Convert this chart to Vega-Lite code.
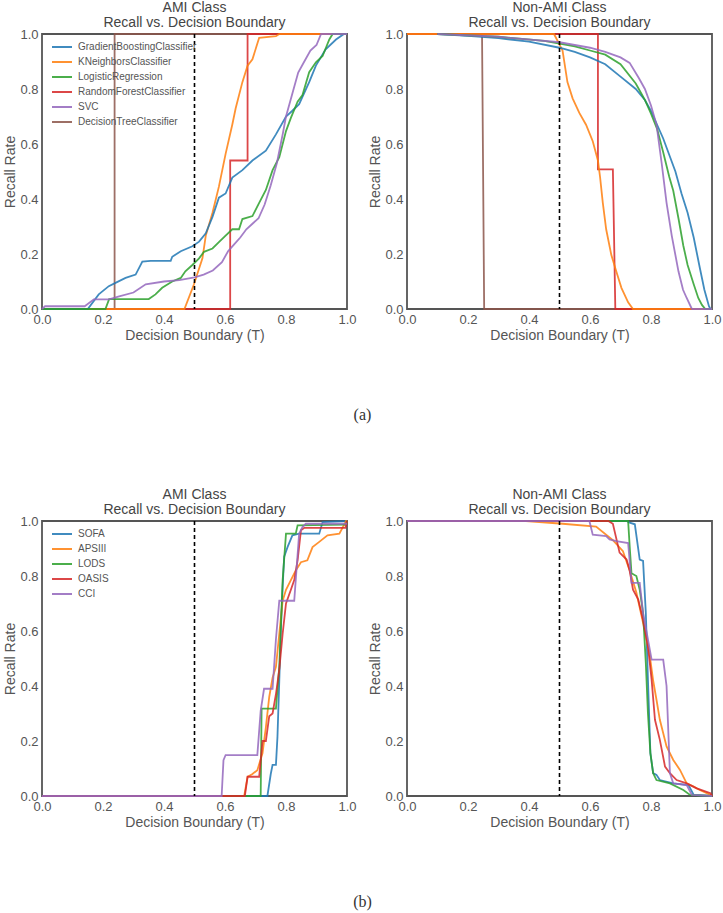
{
  "$schema": "https://vega.github.io/schema/vega-lite/v6.json",
  "background": "white",
  "padding": {"left": 3, "top": 0, "right": 2, "bottom": 2},
  "config": {
    "font": "Liberation Sans",
    "view": {"stroke": "#555555", "strokeWidth": 1.8},
    "axis": {"grid": false, "ticks": false, "domain": false, "labelFontSize": 13, "labelColor": "#555555", "titleFontSize": 14, "titleColor": "#555555", "titleFontWeight": "normal", "labelPadding": 4, "titlePadding": 2, "labelFlush": false, "labelOverlap": false},
    "title": {"fontSize": 14, "fontWeight": "normal", "color": "#444444", "lineHeight": 15, "offset": -2},
    "legend": {"labelFontSize": 10, "labelColor": "#555555"}
  },
  "datasets": {
    "a_ami": [
      {"m": "DecisionTreeClassifier", "t": 0, "r": 0}, {"m": "DecisionTreeClassifier", "t": 0.238, "r": 0}, {"m": "DecisionTreeClassifier", "t": 0.238, "r": 1}, {"m": "DecisionTreeClassifier", "t": 1, "r": 1},
      {"m": "RandomForestClassifier", "t": 0, "r": 0}, {"m": "RandomForestClassifier", "t": 0.617, "r": 0}, {"m": "RandomForestClassifier", "t": 0.617, "r": 0.54}, {"m": "RandomForestClassifier", "t": 0.674, "r": 0.54}, {"m": "RandomForestClassifier", "t": 0.674, "r": 1}, {"m": "RandomForestClassifier", "t": 1, "r": 1},
      {"m": "KNeighborsClassifier", "t": 0, "r": 0}, {"m": "KNeighborsClassifier", "t": 0.467, "r": 0}, {"m": "KNeighborsClassifier", "t": 0.498, "r": 0.089}, {"m": "KNeighborsClassifier", "t": 0.526, "r": 0.184}, {"m": "KNeighborsClassifier", "t": 0.537, "r": 0.267}, {"m": "KNeighborsClassifier", "t": 0.559, "r": 0.35}, {"m": "KNeighborsClassifier", "t": 0.58, "r": 0.445}, {"m": "KNeighborsClassifier", "t": 0.602, "r": 0.564}, {"m": "KNeighborsClassifier", "t": 0.624, "r": 0.671}, {"m": "KNeighborsClassifier", "t": 0.635, "r": 0.73}, {"m": "KNeighborsClassifier", "t": 0.657, "r": 0.825}, {"m": "KNeighborsClassifier", "t": 0.674, "r": 0.885}, {"m": "KNeighborsClassifier", "t": 0.69, "r": 0.908}, {"m": "KNeighborsClassifier", "t": 0.712, "r": 0.986}, {"m": "KNeighborsClassifier", "t": 0.767, "r": 0.992}, {"m": "KNeighborsClassifier", "t": 0.778, "r": 1}, {"m": "KNeighborsClassifier", "t": 1, "r": 1},
      {"m": "GradientBoostingClassifier", "t": 0, "r": 0}, {"m": "GradientBoostingClassifier", "t": 0.15, "r": 0}, {"m": "GradientBoostingClassifier", "t": 0.186, "r": 0.053}, {"m": "GradientBoostingClassifier", "t": 0.219, "r": 0.083}, {"m": "GradientBoostingClassifier", "t": 0.241, "r": 0.095}, {"m": "GradientBoostingClassifier", "t": 0.274, "r": 0.113}, {"m": "GradientBoostingClassifier", "t": 0.307, "r": 0.125}, {"m": "GradientBoostingClassifier", "t": 0.329, "r": 0.172}, {"m": "GradientBoostingClassifier", "t": 0.356, "r": 0.175}, {"m": "GradientBoostingClassifier", "t": 0.422, "r": 0.175}, {"m": "GradientBoostingClassifier", "t": 0.427, "r": 0.19}, {"m": "GradientBoostingClassifier", "t": 0.455, "r": 0.21}, {"m": "GradientBoostingClassifier", "t": 0.493, "r": 0.228}, {"m": "GradientBoostingClassifier", "t": 0.515, "r": 0.245}, {"m": "GradientBoostingClassifier", "t": 0.537, "r": 0.275}, {"m": "GradientBoostingClassifier", "t": 0.559, "r": 0.335}, {"m": "GradientBoostingClassifier", "t": 0.58, "r": 0.405}, {"m": "GradientBoostingClassifier", "t": 0.602, "r": 0.42}, {"m": "GradientBoostingClassifier", "t": 0.624, "r": 0.478}, {"m": "GradientBoostingClassifier", "t": 0.657, "r": 0.505}, {"m": "GradientBoostingClassifier", "t": 0.69, "r": 0.54}, {"m": "GradientBoostingClassifier", "t": 0.734, "r": 0.576}, {"m": "GradientBoostingClassifier", "t": 0.767, "r": 0.635}, {"m": "GradientBoostingClassifier", "t": 0.8, "r": 0.7}, {"m": "GradientBoostingClassifier", "t": 0.82, "r": 0.72}, {"m": "GradientBoostingClassifier", "t": 0.843, "r": 0.745}, {"m": "GradientBoostingClassifier", "t": 0.876, "r": 0.825}, {"m": "GradientBoostingClassifier", "t": 0.898, "r": 0.885}, {"m": "GradientBoostingClassifier", "t": 0.93, "r": 0.944}, {"m": "GradientBoostingClassifier", "t": 0.964, "r": 0.98}, {"m": "GradientBoostingClassifier", "t": 0.99, "r": 1}, {"m": "GradientBoostingClassifier", "t": 1, "r": 1},
      {"m": "LogisticRegression", "t": 0, "r": 0}, {"m": "LogisticRegression", "t": 0.208, "r": 0}, {"m": "LogisticRegression", "t": 0.22, "r": 0.036}, {"m": "LogisticRegression", "t": 0.35, "r": 0.036}, {"m": "LogisticRegression", "t": 0.372, "r": 0.053}, {"m": "LogisticRegression", "t": 0.394, "r": 0.077}, {"m": "LogisticRegression", "t": 0.427, "r": 0.1}, {"m": "LogisticRegression", "t": 0.455, "r": 0.113}, {"m": "LogisticRegression", "t": 0.47, "r": 0.137}, {"m": "LogisticRegression", "t": 0.493, "r": 0.16}, {"m": "LogisticRegression", "t": 0.515, "r": 0.184}, {"m": "LogisticRegression", "t": 0.531, "r": 0.208}, {"m": "LogisticRegression", "t": 0.559, "r": 0.22}, {"m": "LogisticRegression", "t": 0.58, "r": 0.243}, {"m": "LogisticRegression", "t": 0.602, "r": 0.267}, {"m": "LogisticRegression", "t": 0.624, "r": 0.29}, {"m": "LogisticRegression", "t": 0.646, "r": 0.29}, {"m": "LogisticRegression", "t": 0.657, "r": 0.327}, {"m": "LogisticRegression", "t": 0.69, "r": 0.338}, {"m": "LogisticRegression", "t": 0.712, "r": 0.386}, {"m": "LogisticRegression", "t": 0.734, "r": 0.433}, {"m": "LogisticRegression", "t": 0.756, "r": 0.505}, {"m": "LogisticRegression", "t": 0.778, "r": 0.552}, {"m": "LogisticRegression", "t": 0.8, "r": 0.647}, {"m": "LogisticRegression", "t": 0.816, "r": 0.695}, {"m": "LogisticRegression", "t": 0.838, "r": 0.754}, {"m": "LogisticRegression", "t": 0.854, "r": 0.778}, {"m": "LogisticRegression", "t": 0.876, "r": 0.861}, {"m": "LogisticRegression", "t": 0.898, "r": 0.897}, {"m": "LogisticRegression", "t": 0.92, "r": 0.92}, {"m": "LogisticRegression", "t": 0.942, "r": 0.98}, {"m": "LogisticRegression", "t": 0.953, "r": 1}, {"m": "LogisticRegression", "t": 1, "r": 1},
      {"m": "SVC", "t": 0, "r": 0}, {"m": "SVC", "t": 0.01, "r": 0.01}, {"m": "SVC", "t": 0.14, "r": 0.01}, {"m": "SVC", "t": 0.17, "r": 0.035}, {"m": "SVC", "t": 0.22, "r": 0.035}, {"m": "SVC", "t": 0.25, "r": 0.045}, {"m": "SVC", "t": 0.3, "r": 0.06}, {"m": "SVC", "t": 0.34, "r": 0.09}, {"m": "SVC", "t": 0.4, "r": 0.1}, {"m": "SVC", "t": 0.45, "r": 0.105}, {"m": "SVC", "t": 0.5, "r": 0.115}, {"m": "SVC", "t": 0.53, "r": 0.125}, {"m": "SVC", "t": 0.56, "r": 0.14}, {"m": "SVC", "t": 0.59, "r": 0.17}, {"m": "SVC", "t": 0.61, "r": 0.21}, {"m": "SVC", "t": 0.63, "r": 0.235}, {"m": "SVC", "t": 0.65, "r": 0.26}, {"m": "SVC", "t": 0.67, "r": 0.29}, {"m": "SVC", "t": 0.69, "r": 0.31}, {"m": "SVC", "t": 0.71, "r": 0.33}, {"m": "SVC", "t": 0.73, "r": 0.38}, {"m": "SVC", "t": 0.75, "r": 0.45}, {"m": "SVC", "t": 0.77, "r": 0.53}, {"m": "SVC", "t": 0.79, "r": 0.64}, {"m": "SVC", "t": 0.8, "r": 0.7}, {"m": "SVC", "t": 0.82, "r": 0.78}, {"m": "SVC", "t": 0.84, "r": 0.86}, {"m": "SVC", "t": 0.86, "r": 0.9}, {"m": "SVC", "t": 0.88, "r": 0.94}, {"m": "SVC", "t": 0.9, "r": 0.96}, {"m": "SVC", "t": 0.915, "r": 1}, {"m": "SVC", "t": 1, "r": 1}
    ],
    "a_non": [
      {"m": "DecisionTreeClassifier", "t": 0, "r": 1}, {"m": "DecisionTreeClassifier", "t": 0.246, "r": 1}, {"m": "DecisionTreeClassifier", "t": 0.253, "r": 0}, {"m": "DecisionTreeClassifier", "t": 1, "r": 0},
      {"m": "RandomForestClassifier", "t": 0, "r": 1}, {"m": "RandomForestClassifier", "t": 0.626, "r": 1}, {"m": "RandomForestClassifier", "t": 0.626, "r": 0.508}, {"m": "RandomForestClassifier", "t": 0.675, "r": 0.508}, {"m": "RandomForestClassifier", "t": 0.683, "r": 0}, {"m": "RandomForestClassifier", "t": 1, "r": 0},
      {"m": "KNeighborsClassifier", "t": 0, "r": 1}, {"m": "KNeighborsClassifier", "t": 0.482, "r": 1}, {"m": "KNeighborsClassifier", "t": 0.51, "r": 0.94}, {"m": "KNeighborsClassifier", "t": 0.526, "r": 0.825}, {"m": "KNeighborsClassifier", "t": 0.543, "r": 0.766}, {"m": "KNeighborsClassifier", "t": 0.565, "r": 0.713}, {"m": "KNeighborsClassifier", "t": 0.587, "r": 0.67}, {"m": "KNeighborsClassifier", "t": 0.609, "r": 0.61}, {"m": "KNeighborsClassifier", "t": 0.626, "r": 0.54}, {"m": "KNeighborsClassifier", "t": 0.633, "r": 0.48}, {"m": "KNeighborsClassifier", "t": 0.642, "r": 0.386}, {"m": "KNeighborsClassifier", "t": 0.653, "r": 0.29}, {"m": "KNeighborsClassifier", "t": 0.67, "r": 0.196}, {"m": "KNeighborsClassifier", "t": 0.686, "r": 0.137}, {"m": "KNeighborsClassifier", "t": 0.703, "r": 0.077}, {"m": "KNeighborsClassifier", "t": 0.725, "r": 0.024}, {"m": "KNeighborsClassifier", "t": 0.741, "r": 0}, {"m": "KNeighborsClassifier", "t": 1, "r": 0},
      {"m": "GradientBoostingClassifier", "t": 0.1, "r": 1}, {"m": "GradientBoostingClassifier", "t": 0.2, "r": 0.993}, {"m": "GradientBoostingClassifier", "t": 0.3, "r": 0.985}, {"m": "GradientBoostingClassifier", "t": 0.4, "r": 0.972}, {"m": "GradientBoostingClassifier", "t": 0.5, "r": 0.95}, {"m": "GradientBoostingClassifier", "t": 0.55, "r": 0.935}, {"m": "GradientBoostingClassifier", "t": 0.6, "r": 0.915}, {"m": "GradientBoostingClassifier", "t": 0.65, "r": 0.89}, {"m": "GradientBoostingClassifier", "t": 0.7, "r": 0.845}, {"m": "GradientBoostingClassifier", "t": 0.75, "r": 0.8}, {"m": "GradientBoostingClassifier", "t": 0.78, "r": 0.76}, {"m": "GradientBoostingClassifier", "t": 0.8, "r": 0.72}, {"m": "GradientBoostingClassifier", "t": 0.82, "r": 0.67}, {"m": "GradientBoostingClassifier", "t": 0.84, "r": 0.62}, {"m": "GradientBoostingClassifier", "t": 0.86, "r": 0.56}, {"m": "GradientBoostingClassifier", "t": 0.88, "r": 0.5}, {"m": "GradientBoostingClassifier", "t": 0.9, "r": 0.42}, {"m": "GradientBoostingClassifier", "t": 0.92, "r": 0.35}, {"m": "GradientBoostingClassifier", "t": 0.94, "r": 0.26}, {"m": "GradientBoostingClassifier", "t": 0.96, "r": 0.15}, {"m": "GradientBoostingClassifier", "t": 0.975, "r": 0.07}, {"m": "GradientBoostingClassifier", "t": 0.99, "r": 0.01}, {"m": "GradientBoostingClassifier", "t": 0.995, "r": 0}, {"m": "GradientBoostingClassifier", "t": 1, "r": 0},
      {"m": "LogisticRegression", "t": 0.1, "r": 1}, {"m": "LogisticRegression", "t": 0.3, "r": 0.99}, {"m": "LogisticRegression", "t": 0.45, "r": 0.975}, {"m": "LogisticRegression", "t": 0.5, "r": 0.965}, {"m": "LogisticRegression", "t": 0.55, "r": 0.955}, {"m": "LogisticRegression", "t": 0.6, "r": 0.94}, {"m": "LogisticRegression", "t": 0.65, "r": 0.925}, {"m": "LogisticRegression", "t": 0.7, "r": 0.89}, {"m": "LogisticRegression", "t": 0.75, "r": 0.82}, {"m": "LogisticRegression", "t": 0.78, "r": 0.76}, {"m": "LogisticRegression", "t": 0.8, "r": 0.71}, {"m": "LogisticRegression", "t": 0.82, "r": 0.655}, {"m": "LogisticRegression", "t": 0.84, "r": 0.57}, {"m": "LogisticRegression", "t": 0.86, "r": 0.48}, {"m": "LogisticRegression", "t": 0.873, "r": 0.43}, {"m": "LogisticRegression", "t": 0.89, "r": 0.33}, {"m": "LogisticRegression", "t": 0.906, "r": 0.23}, {"m": "LogisticRegression", "t": 0.92, "r": 0.16}, {"m": "LogisticRegression", "t": 0.94, "r": 0.09}, {"m": "LogisticRegression", "t": 0.955, "r": 0.04}, {"m": "LogisticRegression", "t": 0.967, "r": 0.015}, {"m": "LogisticRegression", "t": 0.978, "r": 0}, {"m": "LogisticRegression", "t": 1, "r": 0},
      {"m": "SVC", "t": 0.1, "r": 1}, {"m": "SVC", "t": 0.3, "r": 0.99}, {"m": "SVC", "t": 0.5, "r": 0.97}, {"m": "SVC", "t": 0.6, "r": 0.95}, {"m": "SVC", "t": 0.65, "r": 0.935}, {"m": "SVC", "t": 0.7, "r": 0.915}, {"m": "SVC", "t": 0.73, "r": 0.895}, {"m": "SVC", "t": 0.76, "r": 0.84}, {"m": "SVC", "t": 0.78, "r": 0.8}, {"m": "SVC", "t": 0.8, "r": 0.74}, {"m": "SVC", "t": 0.818, "r": 0.67}, {"m": "SVC", "t": 0.835, "r": 0.53}, {"m": "SVC", "t": 0.851, "r": 0.386}, {"m": "SVC", "t": 0.868, "r": 0.267}, {"m": "SVC", "t": 0.89, "r": 0.137}, {"m": "SVC", "t": 0.905, "r": 0.07}, {"m": "SVC", "t": 0.917, "r": 0.04}, {"m": "SVC", "t": 0.934, "r": 0}, {"m": "SVC", "t": 1, "r": 0}
    ],
    "b_ami": [
      {"m": "SOFA", "t": 0, "r": 0}, {"m": "SOFA", "t": 0.739, "r": 0}, {"m": "SOFA", "t": 0.75, "r": 0.08}, {"m": "SOFA", "t": 0.756, "r": 0.113}, {"m": "SOFA", "t": 0.767, "r": 0.113}, {"m": "SOFA", "t": 0.772, "r": 0.215}, {"m": "SOFA", "t": 0.778, "r": 0.42}, {"m": "SOFA", "t": 0.783, "r": 0.6}, {"m": "SOFA", "t": 0.789, "r": 0.76}, {"m": "SOFA", "t": 0.794, "r": 0.87}, {"m": "SOFA", "t": 0.805, "r": 0.905}, {"m": "SOFA", "t": 0.821, "r": 0.948}, {"m": "SOFA", "t": 0.843, "r": 0.954}, {"m": "SOFA", "t": 0.909, "r": 0.954}, {"m": "SOFA", "t": 0.92, "r": 0.996}, {"m": "SOFA", "t": 1, "r": 1},
      {"m": "APSIII", "t": 0, "r": 0}, {"m": "APSIII", "t": 0.663, "r": 0}, {"m": "APSIII", "t": 0.674, "r": 0.07}, {"m": "APSIII", "t": 0.69, "r": 0.08}, {"m": "APSIII", "t": 0.706, "r": 0.094}, {"m": "APSIII", "t": 0.723, "r": 0.155}, {"m": "APSIII", "t": 0.734, "r": 0.25}, {"m": "APSIII", "t": 0.745, "r": 0.36}, {"m": "APSIII", "t": 0.756, "r": 0.43}, {"m": "APSIII", "t": 0.767, "r": 0.47}, {"m": "APSIII", "t": 0.778, "r": 0.59}, {"m": "APSIII", "t": 0.789, "r": 0.71}, {"m": "APSIII", "t": 0.8, "r": 0.75}, {"m": "APSIII", "t": 0.816, "r": 0.785}, {"m": "APSIII", "t": 0.832, "r": 0.82}, {"m": "APSIII", "t": 0.849, "r": 0.85}, {"m": "APSIII", "t": 0.87, "r": 0.857}, {"m": "APSIII", "t": 0.887, "r": 0.905}, {"m": "APSIII", "t": 0.909, "r": 0.924}, {"m": "APSIII", "t": 0.936, "r": 0.948}, {"m": "APSIII", "t": 0.975, "r": 0.954}, {"m": "APSIII", "t": 0.997, "r": 1}, {"m": "APSIII", "t": 1, "r": 1},
      {"m": "LODS", "t": 0, "r": 0}, {"m": "LODS", "t": 0.717, "r": 0}, {"m": "LODS", "t": 0.72, "r": 0.318}, {"m": "LODS", "t": 0.767, "r": 0.318}, {"m": "LODS", "t": 0.778, "r": 0.47}, {"m": "LODS", "t": 0.789, "r": 0.785}, {"m": "LODS", "t": 0.8, "r": 0.954}, {"m": "LODS", "t": 0.832, "r": 0.954}, {"m": "LODS", "t": 0.838, "r": 0.984}, {"m": "LODS", "t": 0.997, "r": 0.987}, {"m": "LODS", "t": 1, "r": 1},
      {"m": "OASIS", "t": 0, "r": 0}, {"m": "OASIS", "t": 0.665, "r": 0}, {"m": "OASIS", "t": 0.674, "r": 0.07}, {"m": "OASIS", "t": 0.712, "r": 0.07}, {"m": "OASIS", "t": 0.723, "r": 0.2}, {"m": "OASIS", "t": 0.734, "r": 0.2}, {"m": "OASIS", "t": 0.745, "r": 0.29}, {"m": "OASIS", "t": 0.756, "r": 0.3}, {"m": "OASIS", "t": 0.767, "r": 0.37}, {"m": "OASIS", "t": 0.778, "r": 0.46}, {"m": "OASIS", "t": 0.789, "r": 0.59}, {"m": "OASIS", "t": 0.8, "r": 0.7}, {"m": "OASIS", "t": 0.816, "r": 0.75}, {"m": "OASIS", "t": 0.827, "r": 0.785}, {"m": "OASIS", "t": 0.838, "r": 0.857}, {"m": "OASIS", "t": 0.849, "r": 0.966}, {"m": "OASIS", "t": 0.86, "r": 0.975}, {"m": "OASIS", "t": 0.995, "r": 0.975}, {"m": "OASIS", "t": 1, "r": 1},
      {"m": "CCI", "t": 0, "r": 0}, {"m": "CCI", "t": 0.589, "r": 0}, {"m": "CCI", "t": 0.595, "r": 0.13}, {"m": "CCI", "t": 0.602, "r": 0.149}, {"m": "CCI", "t": 0.706, "r": 0.149}, {"m": "CCI", "t": 0.717, "r": 0.31}, {"m": "CCI", "t": 0.728, "r": 0.39}, {"m": "CCI", "t": 0.756, "r": 0.39}, {"m": "CCI", "t": 0.767, "r": 0.57}, {"m": "CCI", "t": 0.778, "r": 0.71}, {"m": "CCI", "t": 0.827, "r": 0.71}, {"m": "CCI", "t": 0.843, "r": 0.954}, {"m": "CCI", "t": 0.854, "r": 0.978}, {"m": "CCI", "t": 0.865, "r": 0.99}, {"m": "CCI", "t": 1, "r": 0.99}
    ],
    "b_non": [
      {"m": "SOFA", "t": 0, "r": 1}, {"m": "SOFA", "t": 0.72, "r": 1}, {"m": "SOFA", "t": 0.73, "r": 0.994}, {"m": "SOFA", "t": 0.747, "r": 0.988}, {"m": "SOFA", "t": 0.763, "r": 0.86}, {"m": "SOFA", "t": 0.774, "r": 0.855}, {"m": "SOFA", "t": 0.783, "r": 0.666}, {"m": "SOFA", "t": 0.79, "r": 0.423}, {"m": "SOFA", "t": 0.798, "r": 0.156}, {"m": "SOFA", "t": 0.807, "r": 0.083}, {"m": "SOFA", "t": 0.818, "r": 0.077}, {"m": "SOFA", "t": 0.829, "r": 0.058}, {"m": "SOFA", "t": 0.873, "r": 0.046}, {"m": "SOFA", "t": 0.923, "r": 0.04}, {"m": "SOFA", "t": 0.94, "r": 0.004}, {"m": "SOFA", "t": 1, "r": 0},
      {"m": "APSIII", "t": 0, "r": 1}, {"m": "APSIII", "t": 0.39, "r": 1}, {"m": "APSIII", "t": 0.51, "r": 0.99}, {"m": "APSIII", "t": 0.62, "r": 0.98}, {"m": "APSIII", "t": 0.675, "r": 0.93}, {"m": "APSIII", "t": 0.708, "r": 0.89}, {"m": "APSIII", "t": 0.73, "r": 0.82}, {"m": "APSIII", "t": 0.752, "r": 0.74}, {"m": "APSIII", "t": 0.774, "r": 0.63}, {"m": "APSIII", "t": 0.796, "r": 0.51}, {"m": "APSIII", "t": 0.807, "r": 0.42}, {"m": "APSIII", "t": 0.818, "r": 0.35}, {"m": "APSIII", "t": 0.829, "r": 0.277}, {"m": "APSIII", "t": 0.851, "r": 0.18}, {"m": "APSIII", "t": 0.873, "r": 0.131}, {"m": "APSIII", "t": 0.895, "r": 0.095}, {"m": "APSIII", "t": 0.917, "r": 0.046}, {"m": "APSIII", "t": 0.94, "r": 0.034}, {"m": "APSIII", "t": 0.96, "r": 0.022}, {"m": "APSIII", "t": 0.995, "r": 0.004}, {"m": "APSIII", "t": 1, "r": 0},
      {"m": "LODS", "t": 0, "r": 1}, {"m": "LODS", "t": 0.725, "r": 1}, {"m": "LODS", "t": 0.73, "r": 0.91}, {"m": "LODS", "t": 0.736, "r": 0.81}, {"m": "LODS", "t": 0.752, "r": 0.8}, {"m": "LODS", "t": 0.763, "r": 0.75}, {"m": "LODS", "t": 0.774, "r": 0.666}, {"m": "LODS", "t": 0.783, "r": 0.484}, {"m": "LODS", "t": 0.79, "r": 0.3}, {"m": "LODS", "t": 0.798, "r": 0.156}, {"m": "LODS", "t": 0.807, "r": 0.083}, {"m": "LODS", "t": 0.818, "r": 0.058}, {"m": "LODS", "t": 0.862, "r": 0.046}, {"m": "LODS", "t": 0.906, "r": 0.022}, {"m": "LODS", "t": 0.928, "r": 0.004}, {"m": "LODS", "t": 1, "r": 0},
      {"m": "OASIS", "t": 0, "r": 1}, {"m": "OASIS", "t": 0.66, "r": 1}, {"m": "OASIS", "t": 0.675, "r": 0.99}, {"m": "OASIS", "t": 0.697, "r": 0.885}, {"m": "OASIS", "t": 0.72, "r": 0.86}, {"m": "OASIS", "t": 0.73, "r": 0.82}, {"m": "OASIS", "t": 0.741, "r": 0.75}, {"m": "OASIS", "t": 0.758, "r": 0.715}, {"m": "OASIS", "t": 0.774, "r": 0.64}, {"m": "OASIS", "t": 0.79, "r": 0.544}, {"m": "OASIS", "t": 0.802, "r": 0.423}, {"m": "OASIS", "t": 0.813, "r": 0.277}, {"m": "OASIS", "t": 0.829, "r": 0.204}, {"m": "OASIS", "t": 0.846, "r": 0.107}, {"m": "OASIS", "t": 0.862, "r": 0.083}, {"m": "OASIS", "t": 0.884, "r": 0.058}, {"m": "OASIS", "t": 0.917, "r": 0.046}, {"m": "OASIS", "t": 0.95, "r": 0.028}, {"m": "OASIS", "t": 0.995, "r": 0.01}, {"m": "OASIS", "t": 1, "r": 0},
      {"m": "CCI", "t": 0, "r": 1}, {"m": "CCI", "t": 0.598, "r": 1}, {"m": "CCI", "t": 0.609, "r": 0.95}, {"m": "CCI", "t": 0.653, "r": 0.945}, {"m": "CCI", "t": 0.664, "r": 0.933}, {"m": "CCI", "t": 0.686, "r": 0.927}, {"m": "CCI", "t": 0.725, "r": 0.92}, {"m": "CCI", "t": 0.736, "r": 0.775}, {"m": "CCI", "t": 0.763, "r": 0.775}, {"m": "CCI", "t": 0.774, "r": 0.666}, {"m": "CCI", "t": 0.79, "r": 0.569}, {"m": "CCI", "t": 0.802, "r": 0.496}, {"m": "CCI", "t": 0.84, "r": 0.496}, {"m": "CCI", "t": 0.851, "r": 0.4}, {"m": "CCI", "t": 0.857, "r": 0.228}, {"m": "CCI", "t": 0.862, "r": 0.083}, {"m": "CCI", "t": 0.873, "r": 0.046}, {"m": "CCI", "t": 0.917, "r": 0.04}, {"m": "CCI", "t": 0.934, "r": 0.004}, {"m": "CCI", "t": 1, "r": 0}
    ],
    "threshold": [{"t": 0.5}]
  },
  "resolve": {"scale": {"color": "independent"}, "legend": {"color": "independent"}},
  "spacing": 64,
  "vconcat": [
    {
      "title": {"text": "(a)", "orient": "bottom", "anchor": "middle", "font": "Liberation Serif", "fontSize": 16, "color": "#333333", "offset": 64},
      "resolve": {"scale": {"color": "independent"}, "legend": {"color": "independent"}},
      "spacing": 11,
      "hconcat": [
        {
          "width": 305, "height": 275,
          "title": {"text": ["AMI Class", "Recall vs. Decision Boundary"]},
          "layer": [
            {
              "data": {"name": "a_ami"},
              "mark": {"type": "line", "strokeWidth": 1.8, "opacity": 0.85},
              "encoding": {
                "x": {"field": "t", "type": "quantitative", "scale": {"domain": [0, 1], "nice": false}, "axis": {"values": [0, 0.2, 0.4, 0.6, 0.8, 1], "format": ".1f"}, "title": "Decision Boundary (T)"},
                "y": {"field": "r", "type": "quantitative", "scale": {"domain": [0, 1], "nice": false}, "axis": {"values": [0, 0.2, 0.4, 0.6, 0.8, 1], "format": ".1f"}, "title": "Recall Rate"},
                "color": {"field": "m", "type": "nominal",
                  "scale": {"domain": ["GradientBoostingClassifier", "KNeighborsClassifier", "LogisticRegression", "RandomForestClassifier", "SVC", "DecisionTreeClassifier"], "range": ["#1f77b4", "#ff7f0e", "#2ca02c", "#d62728", "#9467bd", "#8c564b"]},
                  "legend": {"orient": "top-left", "title": null, "offset": 5, "padding": 0, "symbolType": "M-1.43,0H1.43", "symbolSize": 196, "symbolStrokeWidth": 2, "symbolOffset": 7, "rowPadding": 2, "labelOffset": 8, "labelFontSize": 10}},
                "order": {"value": null}
              }
            },
            {
              "data": {"name": "threshold"},
              "mark": {"type": "rule", "color": "black", "strokeDash": [4, 3], "strokeWidth": 1.6},
              "encoding": {"x": {"field": "t", "type": "quantitative"}}
            }
          ]
        },
        {
          "width": 305, "height": 275,
          "title": {"text": ["Non-AMI Class", "Recall vs. Decision Boundary"]},
          "layer": [
            {
              "data": {"name": "a_non"},
              "mark": {"type": "line", "strokeWidth": 1.8, "opacity": 0.85},
              "encoding": {
                "x": {"field": "t", "type": "quantitative", "scale": {"domain": [0, 1], "nice": false}, "axis": {"values": [0, 0.2, 0.4, 0.6, 0.8, 1], "format": ".1f"}, "title": "Decision Boundary (T)"},
                "y": {"field": "r", "type": "quantitative", "scale": {"domain": [0, 1], "nice": false}, "axis": {"values": [0, 0.2, 0.4, 0.6, 0.8, 1], "format": ".1f"}, "title": "Recall Rate"},
                "color": {"field": "m", "type": "nominal",
                  "scale": {"domain": ["GradientBoostingClassifier", "KNeighborsClassifier", "LogisticRegression", "RandomForestClassifier", "SVC", "DecisionTreeClassifier"], "range": ["#1f77b4", "#ff7f0e", "#2ca02c", "#d62728", "#9467bd", "#8c564b"]},
                  "legend": null},
                "order": {"value": null}
              }
            },
            {
              "data": {"name": "threshold"},
              "mark": {"type": "rule", "color": "black", "strokeDash": [4, 3], "strokeWidth": 1.6},
              "encoding": {"x": {"field": "t", "type": "quantitative"}}
            }
          ]
        }
      ]
    },
    {
      "title": {"text": "(b)", "orient": "bottom", "anchor": "middle", "font": "Liberation Serif", "fontSize": 16, "color": "#333333", "offset": 64},
      "resolve": {"scale": {"color": "independent"}, "legend": {"color": "independent"}},
      "spacing": 11,
      "hconcat": [
        {
          "width": 305, "height": 275,
          "title": {"text": ["AMI Class", "Recall vs. Decision Boundary"]},
          "layer": [
            {
              "data": {"name": "b_ami"},
              "mark": {"type": "line", "strokeWidth": 1.8, "opacity": 0.85},
              "encoding": {
                "x": {"field": "t", "type": "quantitative", "scale": {"domain": [0, 1], "nice": false}, "axis": {"values": [0, 0.2, 0.4, 0.6, 0.8, 1], "format": ".1f"}, "title": "Decision Boundary (T)"},
                "y": {"field": "r", "type": "quantitative", "scale": {"domain": [0, 1], "nice": false}, "axis": {"values": [0, 0.2, 0.4, 0.6, 0.8, 1], "format": ".1f"}, "title": "Recall Rate"},
                "color": {"field": "m", "type": "nominal",
                  "scale": {"domain": ["SOFA", "APSIII", "LODS", "OASIS", "CCI"], "range": ["#1f77b4", "#ff7f0e", "#2ca02c", "#d62728", "#9467bd"]},
                  "legend": {"orient": "top-left", "title": null, "offset": 5, "padding": 0, "symbolType": "M-1.43,0H1.43", "symbolSize": 196, "symbolStrokeWidth": 2, "symbolOffset": 7, "rowPadding": 2, "labelOffset": 8, "labelFontSize": 10}},
                "order": {"value": null}
              }
            },
            {
              "data": {"name": "threshold"},
              "mark": {"type": "rule", "color": "black", "strokeDash": [4, 3], "strokeWidth": 1.6},
              "encoding": {"x": {"field": "t", "type": "quantitative"}}
            }
          ]
        },
        {
          "width": 305, "height": 275,
          "title": {"text": ["Non-AMI Class", "Recall vs. Decision Boundary"]},
          "layer": [
            {
              "data": {"name": "b_non"},
              "mark": {"type": "line", "strokeWidth": 1.8, "opacity": 0.85},
              "encoding": {
                "x": {"field": "t", "type": "quantitative", "scale": {"domain": [0, 1], "nice": false}, "axis": {"values": [0, 0.2, 0.4, 0.6, 0.8, 1], "format": ".1f"}, "title": "Decision Boundary (T)"},
                "y": {"field": "r", "type": "quantitative", "scale": {"domain": [0, 1], "nice": false}, "axis": {"values": [0, 0.2, 0.4, 0.6, 0.8, 1], "format": ".1f"}, "title": "Recall Rate"},
                "color": {"field": "m", "type": "nominal",
                  "scale": {"domain": ["SOFA", "APSIII", "LODS", "OASIS", "CCI"], "range": ["#1f77b4", "#ff7f0e", "#2ca02c", "#d62728", "#9467bd"]},
                  "legend": null},
                "order": {"value": null}
              }
            },
            {
              "data": {"name": "threshold"},
              "mark": {"type": "rule", "color": "black", "strokeDash": [4, 3], "strokeWidth": 1.6},
              "encoding": {"x": {"field": "t", "type": "quantitative"}}
            }
          ]
        }
      ]
    }
  ]
}
